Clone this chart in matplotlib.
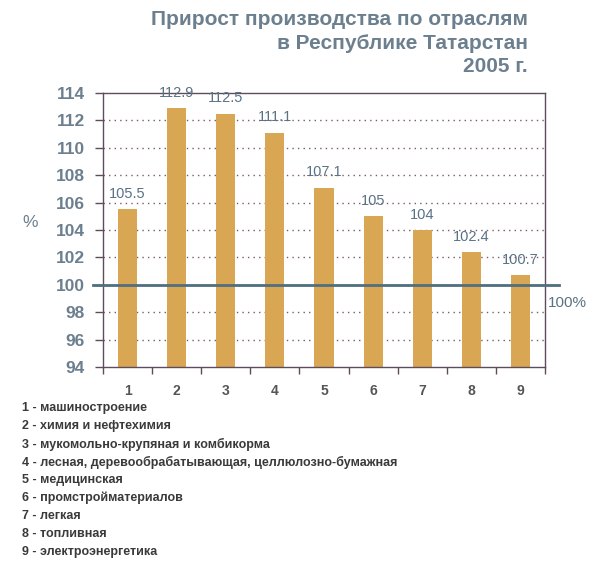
import matplotlib.pyplot as plt

# data
categories = ["1", "2", "3", "4", "5", "6", "7", "8", "9"]
values = [105.5, 112.9, 112.5, 111.1, 107.1, 105, 104, 102.4, 100.7]
value_labels = ["105.5", "112.9", "112.5", "111.1", "107.1", "105", "104", "102.4", "100.7"]
y_ticks = [94, 96, 98, 100, 102, 104, 106, 108, 110, 112, 114]
legend_lines = [
    "1 - машиностроение",
    "2 - химия и нефтехимия",
    "3 - мукомольно-крупяная и комбикорма",
    "4 - лесная, деревообрабатывающая, целлюлозно-бумажная",
    "5 - медицинская",
    "6 - промстройматериалов",
    "7 - легкая",
    "8 - топливная",
    "9 - электроэнергетика",
]
title = "Прирост производства по отраслям\nв Республике Татарстан\n2005 г."

NARROW = ["Liberation Sans", "DejaVu Sans"]
BLUEGREY = "#6b7f8e"
LABEL = "#5a7284"
SPINE = "#5e4b5c"
BAR = "#d9a653"

fig = plt.figure(figsize=(6.0, 5.61), dpi=100)
ax = fig.add_axes([0.1717, 0.3458, 0.7366, 0.4884])

x = list(range(len(categories)))
ax.bar(x, values, width=0.39, bottom=0, color=BAR, zorder=2)
for xi, v, lab in zip(x, values, value_labels):
    ax.annotate(lab, (xi, v), xytext=(0, 6), textcoords="offset points",
                ha="center", va="bottom", fontsize=10.5, color=LABEL,
                family=NARROW)

ax.set_xlim(-0.5, len(categories) - 0.5)
ax.set_ylim(94, 114)
ax.set_yticks(y_ticks)
ax.set_yticklabels([str(t) for t in y_ticks], family=NARROW,
                   fontweight="bold", fontsize=12.5, color=BLUEGREY)

# ticks on category boundaries, labels centred under bars
ax.set_xticks([i - 0.5 for i in range(len(categories) + 1)])
ax.set_xticklabels([])
ax.set_xticks(x, minor=True)
ax.set_xticklabels(categories, minor=True, family=NARROW, fontweight="bold",
                   fontsize=10, color="#555555")
ax.tick_params(axis="x", which="minor", length=0, pad=12)
ax.tick_params(axis="x", which="major", length=5, color=SPINE, width=1)
ax.tick_params(axis="y", length=6, color=SPINE, width=1, pad=7)

for t in y_ticks:
    if t not in (94, 100, 114):
        ax.axhline(t, color="#7a5a6a", lw=1.0, ls=(0, (1, 3)), zorder=1)

ax.plot([-0.7, 8.78], [100, 100], color="#4f6f80", lw=2, zorder=3,
        clip_on=False)

for s in ax.spines.values():
    s.set_color(SPINE)
    s.set_linewidth(1)

fig.text(0.05, 0.604, "%", fontsize=12.5, color=BLUEGREY, family=NARROW,
         ha="center", va="center")
fig.text(0.945, 0.46, "100%", fontsize=11, color=LABEL, family=NARROW,
         ha="center", va="center")

fig.text(0.88, 0.982, title, ha="right", va="top", fontsize=15,
         fontweight="bold", color=BLUEGREY, family=NARROW, linespacing=1.3,
         multialignment="right")

for i, line in enumerate(legend_lines):
    fig.text(0.037, 1 - (408 + i * 18) / 561, line, ha="left", va="center",
             fontsize=9, fontweight="bold", color="#3a3a3a", family=NARROW)

plt.savefig("out.png", dpi=100, facecolor="white")
plt.close(fig)
